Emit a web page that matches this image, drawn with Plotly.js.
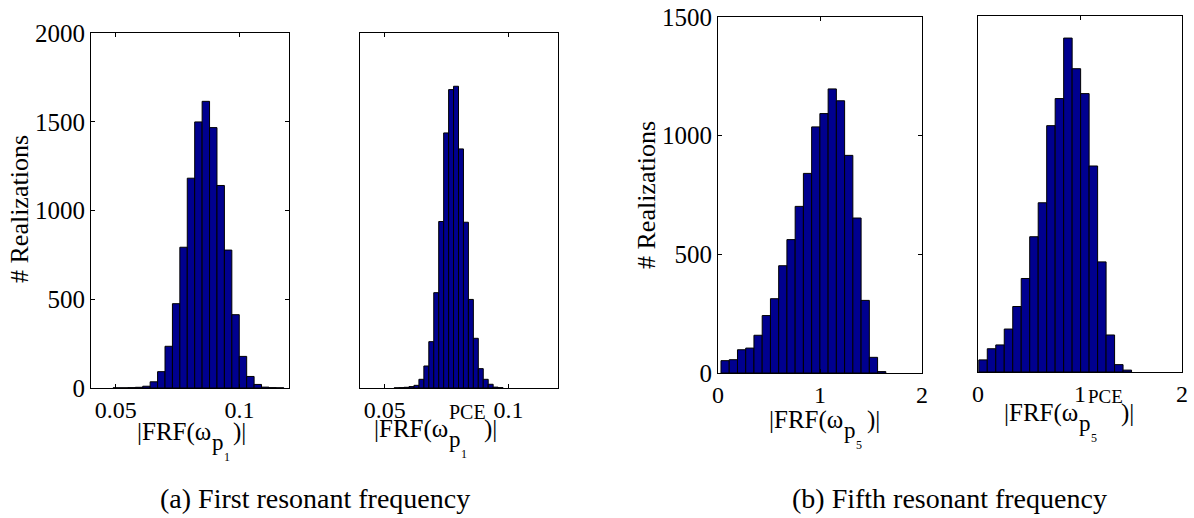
<!DOCTYPE html>
<html>
<head>
<meta charset="utf-8">
<script src="https://cdn.plot.ly/plotly-3.0.1.min.js"></script>
<style>html,body{margin:0;padding:0;background:#fff;}#chart{width:1194px;height:518px;}</style>
</head>
<body>
<div id="chart"></div>
<script>
// ---- Data ----
// (a) First resonant frequency, direct MC
const binsA1 = [0.0504, 0.0534, 0.0564, 0.0594, 0.0624, 0.0654, 0.0684, 0.0714, 0.0744, 0.0774, 0.0804, 0.0834, 0.0864, 0.0894, 0.0924, 0.0954, 0.0984, 0.1014, 0.1044, 0.1074, 0.1104, 0.1134, 0.1164];
const countsA1 = [1, 1, 2, 4, 10, 35, 92, 235, 475, 793, 1182, 1499, 1615, 1467, 1141, 777, 413, 178, 65, 20, 5, 2, 1];
const widthA1 = 0.003;
// (a) First resonant frequency, PCE
const binsA2 = [0.0548, 0.0568, 0.0588, 0.0608, 0.0628, 0.0648, 0.0668, 0.0688, 0.0708, 0.0728, 0.0748, 0.0768, 0.0788, 0.0808, 0.0828, 0.0848, 0.0868, 0.0888, 0.0908, 0.0928, 0.0948, 0.0968];
const countsA2 = [1, 2, 4, 8, 15, 49, 124, 261, 537, 938, 1437, 1681, 1700, 1347, 934, 499, 280, 109, 49, 21, 5, 2];
const widthA2 = 0.002;
// (b) Fifth resonant frequency, direct MC
const binsB1 = [0.0697, 0.1505, 0.2313, 0.3121, 0.3929, 0.4737, 0.5545, 0.6353, 0.7161, 0.7969, 0.8777, 0.9585, 1.0393, 1.1201, 1.2009, 1.2817, 1.3625, 1.4433, 1.5241, 1.6049];
const countsB1 = [52, 56, 98, 105, 159, 242, 313, 452, 562, 702, 841, 1037, 1093, 1197, 1147, 917, 653, 306, 66, 6];
const widthB1 = 0.0808;
// (b) Fifth resonant frequency, PCE
const binsB2 = [0.0494, 0.1326, 0.2158, 0.2990, 0.3822, 0.4654, 0.5486, 0.6318, 0.7150, 0.7982, 0.8814, 0.9646, 1.0478, 1.1310, 1.2142, 1.2974, 1.3806, 1.4638];
const countsB2 = [51, 98, 114, 181, 276, 394, 570, 713, 1038, 1152, 1407, 1278, 1173, 868, 464, 156, 31, 8];
const widthB2 = 0.0832;

const ticksA = [0.05, 0.1];
const ticksB = [0, 1, 2];
const yTicksA = [0, 500, 1000, 1500, 2000];
const yTicksB = [0, 500, 1000, 1500];
const yLabel = '# Realizations';
const captionA = '(a) First resonant frequency';
const captionB = '(b) Fifth resonant frequency';

// ---- Drawing ----
const W = 1194, H = 518;
const FONT = 'Liberation Serif, Times New Roman, serif';
const BAR = '#00008F';

function barTrace(x, y, w, xa, ya) {
  return {type: 'bar', x: x, y: y, width: w, xaxis: xa, yaxis: ya,
          marker: {color: BAR, line: {color: '#000', width: 1}},
          hoverinfo: 'x+y', showlegend: false};
}
const data = [
  barTrace(binsA1, countsA1, widthA1, 'x', 'y'),
  barTrace(binsA2, countsA2, widthA2, 'x2', 'y2'),
  barTrace(binsB1, countsB1, widthB1, 'x3', 'y3'),
  barTrace(binsB2, countsB2, widthB2, 'x4', 'y4')
];

function dx(a, b) { return [a / W, b / W]; }
function dy(top, bottom) { return [1 - bottom / H, 1 - top / H]; }

function xAxis(domain, range, tickvals, anchor) {
  return {domain: domain, range: range, tickvals: tickvals, anchor: anchor,
          ticks: 'inside', ticklen: 4, tickcolor: '#000', tickwidth: 1,
          showline: true, linecolor: '#000', linewidth: 1, mirror: 'ticks',
          showgrid: false, zeroline: false, fixedrange: true,
          tickfont: {family: FONT, size: 24, color: '#000'}};
}
function yAxis(domain, range, tickvals, anchor, labelled) {
  const ax = {domain: domain, range: range, anchor: anchor,
          showline: true, linecolor: '#000', linewidth: 1, mirror: true,
          showgrid: false, zeroline: false, fixedrange: true,
          tickfont: {family: FONT, size: 25, color: '#000'}};
  if (labelled) {
    ax.tickvals = tickvals; ax.ticks = 'inside'; ax.ticklen = 4;
    ax.tickcolor = '#000'; ax.mirror = 'ticks';
  } else {
    ax.showticklabels = false; ax.ticks = '';
  }
  return ax;
}

// x-axis labels built from pieces (main text, sub/superscripts), positions in px
function piece(t, xl, base, size) {
  return {text: t, xref: 'paper', yref: 'paper', x: xl / W, xanchor: 'left',
          y: 1 - (base - 0.34 * size) / H, yanchor: 'middle', showarrow: false,
          borderpad: 0, font: {family: FONT, size: size, color: '#000'}};
}
function frfLabel(x0, xp, xd, xc, base, digit, pce, xpce, pceSize) {
  const out = [
    piece('|FRF(ω', x0, base, 25),
    piece('p', xp, base + 10, 23),
    piece(digit, xd, base + 21, 12),
    piece(')|', xc, base, 25)
  ];
  if (pce) out.push(piece('PCE', xpce, base - 18, pceSize));
  return out;
}
function yTitle(xc, yc) {
  return {text: yLabel, xref: 'paper', yref: 'paper', x: xc / W, y: 1 - yc / H,
          xanchor: 'center', yanchor: 'middle', textangle: -90, showarrow: false,
          font: {family: FONT, size: 26, color: '#000'}};
}

const annotations = [].concat(
  frfLabel(136, 211, 223, 232, 440, '1', false),
  frfLabel(373, 448, 460, 483, 437, '1', true, 448, 20),
  frfLabel(768, 843, 855, 866, 428, '5', false),
  frfLabel(1003, 1078, 1090, 1120, 421, '5', true, 1087, 19),
  [
    yTitle(20, 209),
    yTitle(646, 195),
    {text: captionA, xref: 'paper', yref: 'paper', x: 315 / W, y: 1 - 498 / H,
     xanchor: 'center', yanchor: 'middle', showarrow: false,
     font: {family: FONT, size: 28, color: '#000'}},
    {text: captionB, xref: 'paper', yref: 'paper', x: 949 / W, y: 1 - 498 / H,
     xanchor: 'center', yanchor: 'middle', showarrow: false,
     font: {family: FONT, size: 28, color: '#000'}}
  ]
);

const layout = {
  width: W, height: H,
  margin: {l: 0, r: 0, t: 0, b: 0},
  paper_bgcolor: '#fff', plot_bgcolor: '#fff',
  showlegend: false, barmode: 'overlay',
  xaxis:  xAxis(dx(91, 289),   [0.04, 0.12], ticksA, 'y'),
  yaxis:  yAxis(dy(33, 388),   [0, 2000], yTicksA, 'x', true),
  xaxis2: xAxis(dx(360, 558),  [0.04, 0.12], ticksA, 'y2'),
  yaxis2: yAxis(dy(33, 388),   [0, 2000], yTicksA, 'x2', false),
  xaxis3: xAxis(dx(718, 922),  [0, 2], ticksB, 'y3'),
  yaxis3: yAxis(dy(17, 373),   [0, 1500], yTicksB, 'x3', true),
  xaxis4: xAxis(dx(978, 1182), [0, 2], ticksB, 'y4'),
  yaxis4: yAxis(dy(16, 372),   [0, 1500], yTicksB, 'x4', false),
  annotations: annotations
};

Plotly.newPlot('chart', data, layout, {displayModeBar: false, staticPlot: true});
</script>
</body>
</html>
